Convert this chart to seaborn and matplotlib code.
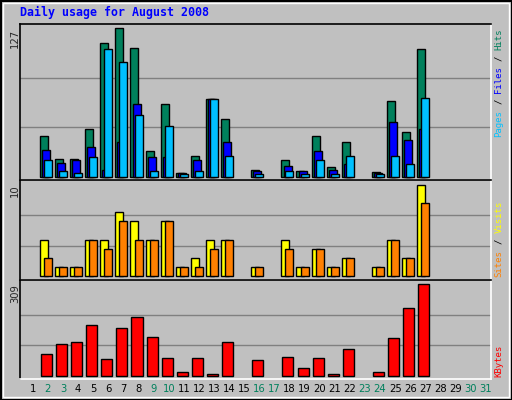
import matplotlib
matplotlib.use("Agg")
import matplotlib.pyplot as plt
import seaborn as sns
import numpy as np
from matplotlib.patches import Rectangle

sns.set_style("white")
plt.rcParams['font.family'] = ['DejaVu Sans Mono', 'DejaVu Sans']

days = [2, 3, 4, 5, 6, 7, 8, 9, 10, 11, 12, 13, 14, 16, 18, 19, 20, 21, 22, 24, 25, 26, 27]
hits = [35, 15, 15, 41, 114, 127, 110, 22, 62, 3, 18, 66, 49, 6, 14, 5, 35, 8, 30, 4, 65, 38, 109]
files = [23, 12, 14, 25, 6, 30, 62, 17, 17, 3, 14, 66, 30, 5, 9, 5, 22, 6, 11, 3, 47, 31, 41]
pages = [14, 5, 3, 17, 109, 98, 53, 5, 43, 2, 5, 66, 18, 2, 5, 2, 14, 2, 18, 2, 18, 11, 67]
visits = [4, 1, 1, 4, 4, 7, 6, 4, 6, 1, 2, 4, 4, 1, 4, 1, 3, 1, 2, 1, 4, 2, 10]
sites = [2, 1, 1, 4, 3, 6, 4, 4, 6, 1, 1, 3, 4, 1, 3, 1, 3, 1, 2, 1, 4, 2, 8]
kbytes = [73, 106, 113, 170, 55, 163, 197, 130, 59, 11, 59, 5, 113, 52, 65, 25, 59, 5, 92, 11, 126, 228, 309]
tick_days = list(range(1, 32))
weekend = {2, 3, 9, 10, 16, 17, 23, 24, 30, 31}

W, H = 512, 400
fig = plt.figure(figsize=(W/100, H/100), dpi=100)
fig.patch.set_facecolor('#C0C0C0')

def ax_px(x0, y0, x1, y1):
    return fig.add_axes([x0/W, 1-y1/H, (x1-x0)/W, (y1-y0)/H])

fig.add_artist(Rectangle((0.5/W, 0.5/H), 1-1/W, 1-1/H, transform=fig.transFigure,
                         fill=False, ec='black', lw=1.5))
fig.add_artist(Rectangle((3/W, 3/H), 1-6/W, 1-6/H, transform=fig.transFigure,
                         fill=False, ec='white', lw=1))

xlim = (0.15, 31.35)
E = dict(edgecolor='black', linewidth=1)
d = np.array(days, dtype=float)

def style(ax, ylim, grid):
    ax.set_facecolor('#C0C0C0')
    ax.set_xlim(*xlim)
    ax.set_ylim(*ylim)
    ax.set_xticks([]); ax.set_yticks([])
    for g in grid:
        ax.axhline(g, color='#808080', lw=1, zorder=0)
    for s in ['top', 'left']:
        ax.spines[s].set_color('black')
    for s in ['bottom', 'right']:
        ax.spines[s].set_color('white')
    for s in ax.spines.values():
        s.set_linewidth(1.2)

a1 = ax_px(20, 24, 491, 180)
style(a1, (-2.9, 130.5), [42.3, 84.7])
a1.bar(d - 0.27, hits, width=0.53, color='#00805C', **E, zorder=2)
a1.bar(d - 0.13, files, width=0.53, color='#0000FF', **E, zorder=3)
a1.bar(d + 0.0, pages, width=0.53, color='#00C0FF', **E, zorder=4)

a2 = ax_px(20, 180, 491, 279.7)
style(a2, (-0.37, 10.5), [3.33, 6.67])
a2.bar(d - 0.27, visits, width=0.53, color='#FFFF00', **E, zorder=2)
a2.bar(d + 0.0, sites, width=0.53, color='#FF8000', **E, zorder=3)

a3 = ax_px(20, 279.7, 491, 379)
style(a3, (-11, 324.5), [103, 206])
sns.barplot(x=d - 0.1, y=kbytes, native_scale=True, width=0.73,
            color='#FF0000', saturation=1, edgecolor='black', linewidth=1, ax=a3, zorder=2)
a3.set_xlim(*xlim); a3.set_ylim(-11, 324.5)
a3.set_xticks([]); a3.set_yticks([]); a3.set_xlabel(''); a3.set_ylabel('')

for dd in tick_days:
    xp = a3.transData.transform((dd, 0))[0]
    fig.text(xp / W, 1 - 389/H, str(dd), ha='center', va='center', fontsize=7.2,
             family='DejaVu Sans', color='#00805C' if dd in weekend else 'black')

fig.text(20/W, 1 - 12/H, 'Daily usage for August 2008', fontsize=8.4, weight='bold',
         color='#0000FF', va='center', ha='left')

for txt, ytop in [('127', 29), ('10', 184), ('309', 284)]:
    fig.text(15/W, 1 - ytop/H, txt, rotation=90, fontsize=7.2, family='DejaVu Sans',
             ha='center', va='top')

FS = 6.5
CW = FS * 100 / 72 * 0.602

def rlabel(parts, ybottom, x=499):
    y = ybottom
    for t, c in parts:
        n = len(t)
        fig.text(x/W, 1 - (y - CW * n / 2)/H, t, rotation=90, fontsize=FS, color=c,
                 ha='center', va='center')
        y -= CW * n

rlabel([('Pages', '#00C0FF'), ('/', 'black'), ('Files', '#0000FF'),
        ('/', 'black'), ('Hits', '#00805C')], 137) if False else None

def rlabel2(parts, ybottom):
    # parts include spacing as separate segments of blanks
    y = ybottom
    for t, c in parts:
        n = len(t)
        if t.strip():
            fig.text(499/W, 1 - (y - CW * n / 2)/H, t, rotation=90, fontsize=FS,
                     color=c, ha='center', va='center')
        y -= CW * n

rlabel2([('Pages', '#00C0FF'), (' ', None), ('/', 'black'), (' ', None),
         ('Files', '#0000FF'), (' ', None), ('/', 'black'), (' ', None),
         ('Hits', '#00805C')], 137)
rlabel2([('Sites', '#FF8000'), (' ', None), ('/', 'black'), (' ', None),
         ('Visits', '#FFFF00')], 277)
rlabel2([('KBytes', '#FF0000')], 377)

fig.savefig('out.png', dpi=100, facecolor=fig.get_facecolor())
